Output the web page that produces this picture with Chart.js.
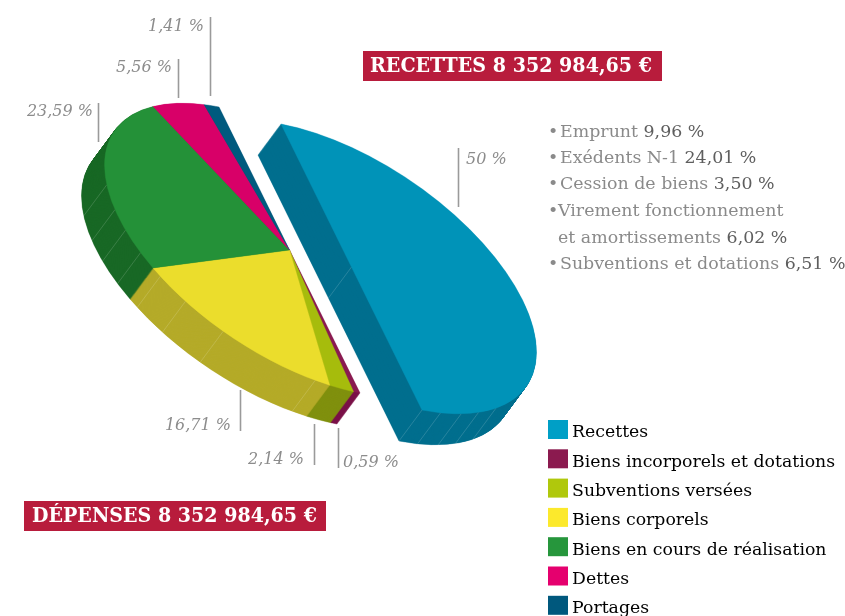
<!DOCTYPE html>
<html lang="fr">
<head>
<meta charset="utf-8">
<style>html,body{margin:0;padding:0;background:#fff;overflow:hidden}canvas{display:block}</style>
<script src="https://cdn.jsdelivr.net/npm/chart.js@4"></script>
</head>
<body>
<canvas id="c" width="845" height="616"></canvas>
<script>
const categories = ['Recettes','Biens incorporels et dotations','Subventions versées','Biens corporels','Biens en cours de réalisation','Dettes','Portages'];
const values = [50,0.59,2.14,16.71,23.59,5.56,1.41];
const faceColors = ['#0093b8','#8a1a50','#a6bc0c','#ebdd2c','#249138','#d80068','#005a7e'];
const wallColors = ['#006f8e','#7a1148','#80900e','#b5ab28','#186825','#a00050','#004a68'];
const legendColors = ['#009fc6','#8b1a4f','#b0c80c','#fce92c','#26963c','#e5006e','#00587d'];
const pctLabels = [
  {text:'1,41 %',  right:204, y:31,  bar:[210.5,17,96]},
  {text:'5,56 %',  right:172, y:72,  bar:[178.5,59,98]},
  {text:'23,59 %', right:93,  y:116, bar:[98.5,103,142]},
  {text:'50 %',    left:466,  y:164, bar:[458.5,148,207]},
  {text:'16,71 %', right:231, y:430, bar:[240.5,390,431]},
  {text:'2,14 %',  right:304, y:464, bar:[314.5,424,465]},
  {text:'0,59 %',  left:343,  y:467, bar:[338.5,428,468]}
];
const recettesList = [
  {bullet:548,x:560,y:137,a:'Emprunt ',b:'9,96 %'},
  {bullet:548,x:560,y:163,a:'Exédents N-1 ',b:'24,01 %'},
  {bullet:548,x:560,y:189,a:'Cession de biens ',b:'3,50 %'},
  {bullet:548,x:558,y:216,a:'Virement fonctionnement',b:''},
  {x:558,y:243,a:'et amortissements ',b:'6,02 %'},
  {bullet:548,x:560,y:269,a:'Subventions et dotations ',b:'6,51 %'}
];
const banners = [
  {text:'RECETTES 8 352 984,65 €', box:[363,51,299,30], x:370, w:282, y:72},
  {text:'DÉPENSES 8 352 984,65 €', box:[24,501,302,30], x:32, w:285, y:522}
];
// projection of the disc on the page
const proj = {cx:289.5, cy:250, v:[171,33], u:[70.5,143], depth:[-23,31]};
const explode = [[62,17],[0,0],[0,0],[0,0],[0,0],[0,0],[0,0]];
// facet seams of the side wall, in degrees on the disc
const seamsBlue = [90,83.6,76,69,61];
const seamsRest = [193.4,183,174.8,166,156.7,146.6,133.4,104.4];

const legendBox = {left:548, top:420, step:29.3, w:20, h:19, itemH:26, textGap:15.4};

function place(ctx, arc, shift, t){
  const R = arc.outerRadius;
  ctx.translate(proj.cx+shift[0]+proj.depth[0]*t, proj.cy+shift[1]+proj.depth[1]*t);
  ctx.transform(proj.v[0]/R,proj.v[1]/R,proj.u[0]/R,proj.u[1]/R,0,0);
  ctx.translate(-arc.x,-arc.y);
}
function seam(ctx, deg, shift){
  const a = deg*Math.PI/180, c = Math.cos(a), s = Math.sin(a);
  const x = proj.cx+shift[0]+proj.v[0]*c+proj.u[0]*s, y = proj.cy+shift[1]+proj.v[1]*c+proj.u[1]*s;
  ctx.beginPath(); ctx.moveTo(x,y); ctx.lineTo(x+proj.depth[0],y+proj.depth[1]); ctx.stroke();
}
const pie3d = {
  id:'pie3d',
  afterLayout(chart){
    const L = chart.legend, pad = legendBox.step-legendBox.itemH;
    L.left = legendBox.left-pad; L.right = 845; L.width = L.right-L.left;
    L.top = legendBox.top-pad; L.bottom = 760; L.height = L.bottom-L.top;
  },
  beforeDatasetsDraw(chart){
    const ctx = chart.ctx, arcs = chart.getDatasetMeta(0).data;
    const steps = 64;
    for(let k=steps;k>=1;k--){
      arcs.forEach((arc,i)=>{
        const keep = arc.options;
        arc.options = Object.assign({},keep,{backgroundColor:wallColors[i],borderColor:wallColors[i]});
        ctx.save(); place(ctx,arc,explode[i],k/steps); arc.draw(ctx); ctx.restore();
        arc.options = keep;
      });
    }
    ctx.save();
    ctx.lineWidth = 0.7; ctx.strokeStyle = 'rgba(255,255,255,0.22)';
    seamsBlue.forEach(d=>seam(ctx,d,explode[0]));
    seamsRest.forEach(d=>seam(ctx,d,[0,0]));
    ctx.beginPath();
    const bx = proj.cx+explode[0][0], by = proj.cy+explode[0][1];
    ctx.moveTo(bx,by); ctx.lineTo(bx+proj.depth[0],by+proj.depth[1]); ctx.stroke();
    ctx.restore();
    arcs.forEach((arc,i)=>{
      ctx.save(); place(ctx,arc,explode[i],0); arc.draw(ctx); ctx.restore();
    });
    return false;
  },
  afterDraw(chart){
    const ctx = chart.ctx;
    ctx.save();
    legendColors.forEach((col,i)=>{
      ctx.fillStyle = col;
      ctx.fillRect(legendBox.left,legendBox.top+i*legendBox.step,legendBox.w,legendBox.h);
    });
    ctx.textBaseline = 'alphabetic';
    pctLabels.forEach(l=>{
      ctx.strokeStyle = '#9a9a9a'; ctx.lineWidth = 1.6;
      ctx.beginPath(); ctx.moveTo(l.bar[0],l.bar[1]); ctx.lineTo(l.bar[0],l.bar[2]); ctx.stroke();
      ctx.font = 'italic 16px "DejaVu Serif"'; ctx.fillStyle = '#8c8c8c';
      if(l.right!==undefined){ctx.textAlign='right';ctx.fillText(l.text,l.right,l.y);}
      else{ctx.textAlign='left';ctx.fillText(l.text,l.left,l.y);}
    });
    ctx.textAlign = 'left';
    recettesList.forEach(r=>{
      ctx.font = '17.4px "DejaVu Serif"'; ctx.fillStyle = '#8a8a8a';
      if(r.bullet!==undefined) ctx.fillText('•',r.bullet,r.y);
      ctx.fillText(r.a,r.x,r.y);
      const w = ctx.measureText(r.a).width;
      ctx.fillStyle = '#5e5e5e';
      ctx.fillText(r.b,r.x+w,r.y);
    });
    banners.forEach(b=>{
      ctx.fillStyle = '#b81c3c'; ctx.fillRect(b.box[0],b.box[1],b.box[2],b.box[3]);
      ctx.fillStyle = '#ffffff'; ctx.font = 'bold 21px "DejaVu Serif"';
      ctx.fillText(b.text,b.x,b.y,b.w);
    });
    ctx.restore();
  }
};
new Chart(document.getElementById('c'),{
  type:'pie',
  data:{labels:categories,datasets:[{data:values,backgroundColor:faceColors,borderColor:faceColors,borderWidth:0.6}]},
  options:{
    responsive:false,animation:false,
    events:[],
    plugins:{
      tooltip:{enabled:false},
      legend:{
        position:'right',align:'start',
        labels:{
          boxWidth:legendBox.textGap,boxHeight:legendBox.itemH,
          padding:legendBox.step-legendBox.itemH,
          color:'#444444',font:{family:'"DejaVu Serif"',size:17.3},
          generateLabels:c=>categories.map((t,i)=>({text:t,fillStyle:'rgba(0,0,0,0)',strokeStyle:'rgba(0,0,0,0)',lineWidth:0,index:i,datasetIndex:0}))
        }
      }
    }
  },
  plugins:[pie3d]
});
</script>
</body>
</html>
